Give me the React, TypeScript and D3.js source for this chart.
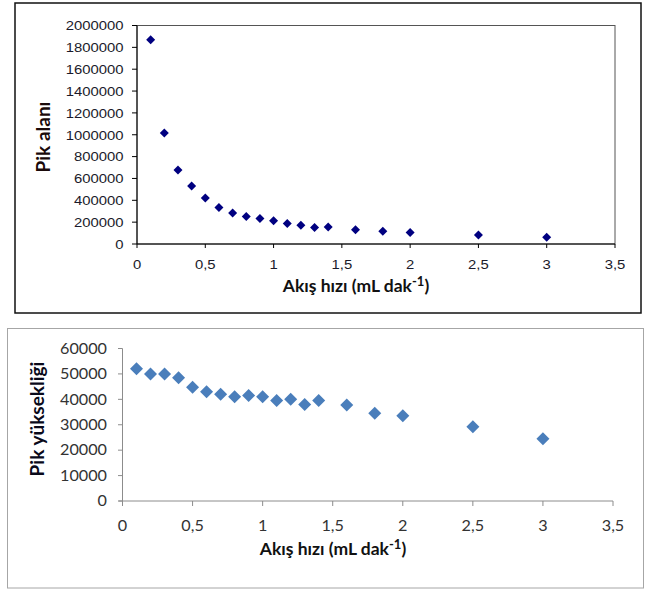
import React from "react";
import * as d3 from "d3";

// ---- data ----
const flowRates = [0.1, 0.2, 0.3, 0.4, 0.5, 0.6, 0.7, 0.8, 0.9, 1.0, 1.1, 1.2, 1.3, 1.4, 1.6, 1.8, 2.0, 2.5, 3.0];
const peakArea = [1870000, 1015000, 678000, 530000, 420000, 335000, 283000, 252000, 234000, 212000, 187000, 171000, 150000, 155000, 131000, 116000, 106000, 82000, 62000];
const peakHeight = [52000, 50000, 50000, 48500, 44800, 43000, 42000, 41000, 41500, 41000, 39500, 40000, 38000, 39500, 37800, 34500, 33500, 29200, 24500];
const xTicks = [0, 0.5, 1, 1.5, 2, 2.5, 3, 3.5];
const areaTicks = [0, 200000, 400000, 600000, 800000, 1000000, 1200000, 1400000, 1600000, 1800000, 2000000];
const heightTicks = [0, 10000, 20000, 30000, 40000, 50000, 60000];
const xTitle = "Akış hızı (mL dak";
const areaTitle = "Pik alanı";
const heightTitle = "Pik yüksekliği";

const fmtX = (v: number) => String(v).replace(".", ",");
const diamond = (cx: number, cy: number, r: number) =>
  `M${cx},${cy - r}L${cx + r},${cy}L${cx},${cy + r}L${cx - r},${cy}Z`;

function STxt({ x, y, sx, anchor, children, style }: any) {
  return (
    <text transform={`translate(${x},${y}) scale(${sx},1)`} textAnchor={anchor} style={style}>
      {children}
    </text>
  );
}

function XTitle({ x, y, color }: { x: number; y: number; color: string }) {
  return (
    <text x={x} y={y} textAnchor="middle" style={{ fontFamily: "Lato, sans-serif", fontWeight: 700, fontSize: 17.5, fill: color }}>
      {xTitle}
      <tspan dy={-6} style={{ fontSize: 13 }}>-1</tspan>
      <tspan dy={6}>)</tspan>
    </text>
  );
}

function TopChart() {
  const x = d3.scaleLinear().domain([0, 3.5]).range([137, 615]);
  const y = d3.scaleLinear().domain([0, 2000000]).range([244, 25.5]);
  const tickFont = { fontFamily: "'Liberation Sans', Arial, sans-serif", fontSize: 13.5, fill: "#1a1a2a" };
  return (
    <g>
      <rect x={15} y={3} width={626} height={310} fill="#fff" stroke="#111" strokeWidth={1.5} />
      <rect x={x(0)} y={y(2000000)} width={x(3.5) - x(0)} height={y(0) - y(2000000)} fill="none" stroke="#555" strokeWidth={1} />
      <line x1={x(0)} x2={x(0)} y1={y(2000000)} y2={y(0)} stroke="#000" />
      <line x1={x(0)} x2={x(3.5)} y1={y(0)} y2={y(0)} stroke="#000" />
      {areaTicks.map((t) => (
        <g key={t}>
          <line x1={x(0) - 5} x2={x(0)} y1={y(t)} y2={y(t)} stroke="#000" />
          <STxt x={123.5} y={y(t) + 4.8} sx={1.1} anchor="end" style={tickFont}>{t}</STxt>
        </g>
      ))}
      {xTicks.map((t) => (
        <g key={t}>
          <line x1={x(t)} x2={x(t)} y1={y(0)} y2={y(0) + 4} stroke="#000" />
          <STxt x={x(t)} y={269} sx={1.1} anchor="middle" style={tickFont}>{fmtX(t)}</STxt>
        </g>
      ))}
      {flowRates.map((f, i) => (
        <path key={i} d={diamond(x(f), y(peakArea[i]), 4.5)} fill="#000080" />
      ))}
      <XTitle x={356} y={292} color="#111" />
      <text transform={`translate(50,137) rotate(-90)`} textAnchor="middle" style={{ fontFamily: "Lato, sans-serif", fontWeight: 700, fontSize: 19, fill: "#1a0a0a" }}>
        {areaTitle}
      </text>
    </g>
  );
}

function BottomChart() {
  const x = d3.scaleLinear().domain([0, 3.5]).range([122.5, 613]);
  const y = d3.scaleLinear().domain([0, 60000]).range([501, 348.5]);
  const tickFont = { fontFamily: "Lato, sans-serif", fontSize: 15, fill: "#333" };
  const axis = "#8c8c8c";
  return (
    <g>
      <rect x={7.5} y={328.5} width={636} height={259.5} fill="#fff" stroke="#a6a6a6" strokeWidth={1} />
      <line x1={x(0)} x2={x(0)} y1={y(60000)} y2={y(0) + 4} stroke={axis} />
      <line x1={x(0) - 4} x2={x(3.5)} y1={y(0)} y2={y(0)} stroke={axis} />
      {heightTicks.map((t) => (
        <g key={t}>
          <line x1={x(0) - 4.5} x2={x(0)} y1={y(t)} y2={y(t)} stroke={axis} />
          <STxt x={107} y={y(t) + 5.2} sx={1.08} anchor="end" style={tickFont}>{t}</STxt>
        </g>
      ))}
      {xTicks.map((t) => (
        <g key={t}>
          <line x1={x(t)} x2={x(t)} y1={y(0)} y2={y(0) + 5} stroke={axis} />
          <STxt x={x(t)} y={530.5} sx={1.08} anchor="middle" style={tickFont}>{fmtX(t)}</STxt>
        </g>
      ))}
      {flowRates.map((f, i) => (
        <path key={i} d={diamond(x(f), y(peakHeight[i]), 6.5)} fill="#4a7ebb" />
      ))}
      <XTitle x={333} y={555} color="#111" />
      <text transform={`translate(44,419) rotate(-90)`} textAnchor="middle" style={{ fontFamily: "Lato, sans-serif", fontWeight: 700, fontSize: 19, fill: "#0a0a1a" }}>
        {heightTitle}
      </text>
    </g>
  );
}

export default function App() {
  return (
    <svg width={646} height={590} style={{ position: "absolute", left: 0, top: 0, background: "#fff" }}>
      <rect width={646} height={590} fill="#fff" />
      <TopChart />
      <BottomChart />
    </svg>
  );
}
